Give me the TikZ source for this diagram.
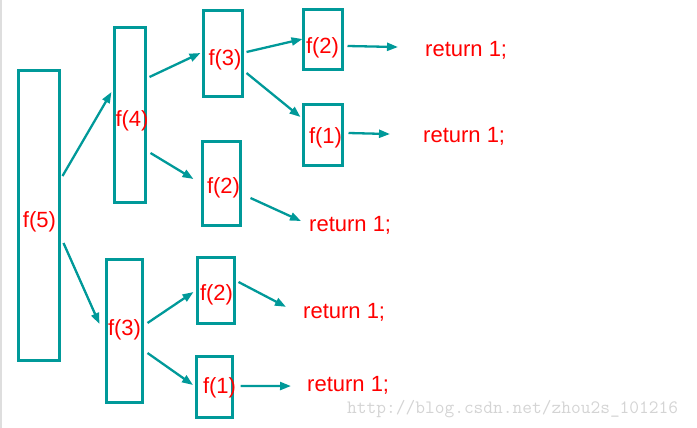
\documentclass[tikz,border=0pt]{standalone}
\usepackage{fontspec}
\setmainfont{Liberation Sans}
\usetikzlibrary{arrows.meta,calc}
\definecolor{tealc}{RGB}{0,153,153}
\definecolor{wmgray}{RGB}{212,212,212}
\definecolor{edgegray}{RGB}{222,222,222}
\begin{document}
\begin{tikzpicture}[x=1pt,y=-1pt,
  box/.style={draw=tealc,line width=3pt,rectangle,inner sep=0pt},
  lbl/.style={text=red,font=\fontsize{22}{26}\selectfont,inner sep=0pt},
  ret/.style={text=red,font=\fontsize{22}{26}\selectfont,inner sep=0pt,anchor=base west},
  arr/.style={draw=tealc,line width=2.3pt,-{Triangle[length=11pt,width=8pt]}}]
\useasboundingbox (0,0) rectangle (697,428);
\draw[edgegray,line width=1.5pt] (0.75,0) -- (0.75,428);
% boxes
\node[box,minimum width=41pt,minimum height=290pt] (f5) at (39,215.5) {};
\node[box,minimum width=31pt,minimum height=175pt] (f4) at (130,115) {};
\node[box,minimum width=39pt,minimum height=86pt] (f3a) at (223,53.5) {};
\node[box,minimum width=39pt,minimum height=60pt] (f2a) at (323,39.5) {};
\node[box,minimum width=39pt,minimum height=61pt] (f1a) at (323,135) {};
\node[box,minimum width=38pt,minimum height=84pt] (f2b) at (221.5,183.5) {};
\node[box,minimum width=36pt,minimum height=143pt] (f3b) at (124.5,331) {};
\node[box,minimum width=37pt,minimum height=66pt] (f2c) at (216,290.5) {};
\node[box,minimum width=36pt,minimum height=61pt] (f1c) at (214.5,387) {};
% labels
\node[lbl] (t5) at (39.5,222) {f(5)};
\node[lbl] (t4) at (132,121) {f(4)};
\node[lbl] (t3a) at (225,60) {f(3)};
\node[lbl] (t2a) at (322.5,48) {f(2)};
\node[lbl] (t1a) at (325.5,138) {f(1)};
\node[lbl] (t2b) at (223.5,188) {f(2)};
\node[lbl] (t3b) at (124.5,329.5) {f(3)};
\node[lbl] (t2c) at (216.5,295) {f(2)};
\node[lbl] (t1c) at (219.5,387.5) {f(1)};
% return texts
\node[ret] (r1) at (425,56.7) {return 1;};
\node[ret] (r2) at (423,142.7) {return 1;};
\node[ret] (r3) at (309,231.7) {return 1;};
\node[ret] (r4) at (303,318) {return 1;};
\node[ret] (r5) at (307,391.7) {return 1;};
% arrows
\draw[arr] ($(f5.east)+(1.5,-39.5)$) -- ($(f4.west)+(-1.5,-23)$);
\draw[arr] ($(f5.east)+(2.5,27.5)$) -- ($(f3b.west)+(-5.5,-7)$);
\draw[arr] ($(f4.east)+(2.5,-38)$) -- ($(f3a.west)+(-1.5,-0.5)$);
\draw[arr] ($(f4.east)+(3.5,38)$) -- ($(f2b.west)+(-7.5,-4.5)$);
\draw[arr] ($(f3a.east)+(2.5,-1.5)$) -- ($(f2a.west)+(0.5,-0.5)$);
\draw[arr] ($(f3a.east)+(2.5,19.5)$) -- ($(f1a.west)+(-1.5,-18)$);
\draw[arr] ($(f3b.east)+(3.5,-8)$) -- ($(f2c.west)+(-2.5,1.5)$);
\draw[arr] ($(f3b.east)+(3.5,22)$) -- ($(f1c.west)+(-2,-2)$);
\draw[arr] ($(f2a.east)+(3.5,6.5)$) -- ($(r1.west)+(-27,-3.5)$);
\draw[arr] ($(f1a.east)+(4.5,-2)$) -- ($(r2.west)+(-33,-2.5)$);
\draw[arr] ($(f2b.east)+(8.5,14.5)$) -- ($(r3.west)+(-8,-4.5)$);
\draw[arr] ($(f2c.east)+(2.5,-8.5)$) -- ($(r4.west)+(-17,-5)$);
\draw[arr] ($(f1c.east)+(6.5,-1)$) -- ($(r5.west)+(-16,0.5)$);
% watermark
\node[anchor=base west,text=wmgray,font=\ttfamily\fontsize{18.9}{20}\selectfont,inner sep=0pt] (wm) at (347,413) {http://blog.csdn.net/zhou2s\_101216};
\end{tikzpicture}
\end{document}
